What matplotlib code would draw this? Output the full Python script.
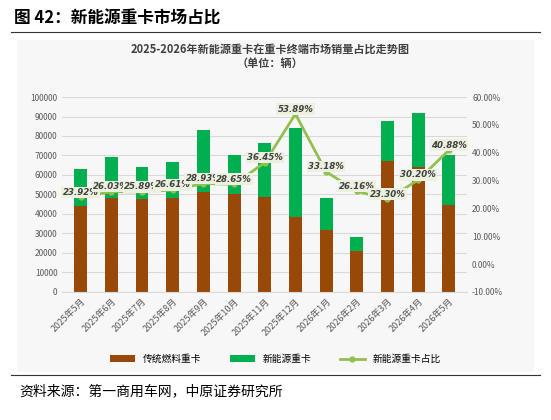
import matplotlib.pyplot as plt
from matplotlib.lines import Line2D

plt.rcParams['font.family'] = ['Noto Sans CJK SC', 'DejaVu Sans']

months = ["2025年5月", "2025年6月", "2025年7月", "2025年8月", "2025年9月", "2025年10月",
          "2025年11月", "2025年12月", "2026年1月", "2026年2月", "2026年3月", "2026年4月", "2026年5月"]
total = [63000, 69000, 64000, 66500, 83000, 70000, 76500, 84000, 48000, 28000, 87500, 92000, 70000]
fuel = [44000, 48000, 47500, 48000, 51500, 50000, 48500, 38500, 32000, 20800, 67000, 64000, 44500]
share = [23.92, 26.03, 25.89, 26.61, 28.93, 28.65, 36.45, 53.89, 33.18, 26.16, 23.30, 30.20, 40.88]

BROWN = "#984807"
GREEN = "#00b050"
LINE = "#92c050"

fig = plt.figure(figsize=(5.51, 4.2), dpi=100)
fig.patch.set_facecolor("white")

# grey chart panel behind everything
panel = plt.Rectangle((0.03, 0.115), 0.94, 0.79, transform=fig.transFigure,
                      facecolor="#f7f7f7", edgecolor="none", zorder=-10)
fig.add_artist(panel)

fig.text(0.025, 0.955, "图 42：新能源重卡市场占比", fontsize=12, fontweight="bold", va="center")
fig.add_artist(Line2D([0.02, 0.98], [0.925, 0.925], color="#333333", lw=0.8))
fig.add_artist(Line2D([0.02, 0.98], [0.108, 0.108], color="#333333", lw=0.8))
fig.text(0.035, 0.068, "资料来源：第一商用车网，中原证券研究所", fontsize=10, va="center")

fig.text(0.49, 0.875, "2025-2026年新能源重卡在重卡终端市场销量占比走势图", fontsize=8,
         fontweight="bold", ha="center", color="#404040")
fig.text(0.49, 0.84, "（单位：辆）", fontsize=8, fontweight="bold", ha="center", color="#404040")

ax = fig.add_axes([0.113, 0.305, 0.735, 0.464])
ax.set_zorder(1)
ax.set_facecolor("none")
x = list(range(len(months)))
nev = [t - f for t, f in zip(total, fuel)]
ax.bar(x, fuel, width=0.42, color=BROWN, label="传统燃料重卡", zorder=2)
ax.bar(x, nev, width=0.42, bottom=fuel, color=GREEN, label="新能源重卡", zorder=2)
ax.set_ylim(0, 100000)
ax.set_yticks(range(0, 100001, 10000))
ax.set_xlim(-0.6, len(months) - 0.4)
ax.grid(axis="y", color="#d9d9d9", lw=0.8, zorder=0)
for s in ["top", "right", "left"]:
    ax.spines[s].set_visible(False)
ax.spines["bottom"].set_color("#d9d9d9")
ax.tick_params(length=0, labelsize=6, colors="#595959")
ax.set_xticks(x)
ax.set_xticklabels(months, rotation=45, ha="right", rotation_mode="anchor", fontsize=6.5)

ax2 = ax.twinx()
ax2.set_zorder(2)
ax2.plot(x, share, color=LINE, lw=2, marker="o", ms=3.5, label="新能源重卡占比", zorder=3)
ax2.set_ylim(-10, 60)
ax2.set_yticks(range(-10, 61, 10))
ax2.set_yticklabels([f"{v:.2f}%" for v in range(-10, 61, 10)])
for s in ["top", "right", "left", "bottom"]:
    ax2.spines[s].set_visible(False)
ax2.tick_params(length=0, labelsize=6, colors="#595959")
for xi, v in zip(x, share):
    ax2.text(xi, v + 1.8, f"{v:.2f}%", ha="center", va="center", fontsize=6.2,
             fontweight="bold", style="italic", color="#404040", family="DejaVu Sans",
             bbox=dict(boxstyle="square,pad=0.15", fc="#ebf1de", ec="none"), zorder=4)

h1, l1 = ax.get_legend_handles_labels()
h2, l2 = ax2.get_legend_handles_labels()
fig.legend(h1 + h2, l1 + l2, loc="center", bbox_to_anchor=(0.5, 0.145), ncol=3,
           frameon=False, fontsize=7, handlelength=2.5, columnspacing=3)

fig.savefig("out.png", dpi=100)
